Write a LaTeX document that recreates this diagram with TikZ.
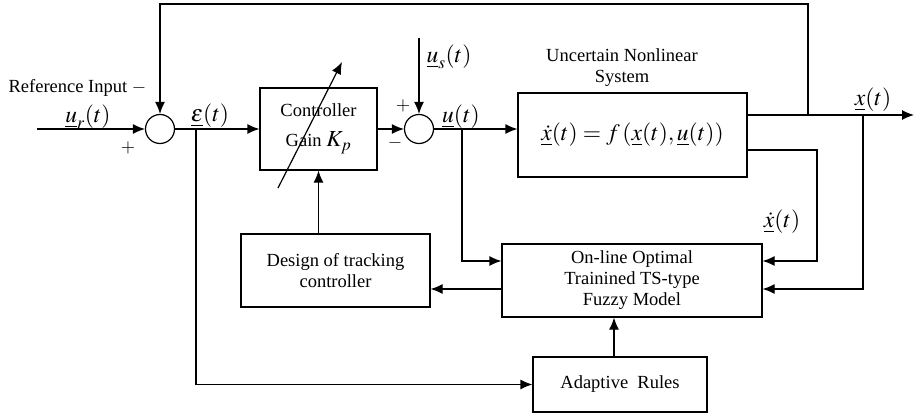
\documentclass[tikz,border=0pt]{standalone}
\usepackage{mathptmx}
\usepackage{fontspec}
\setmainfont{Liberation Serif}
\usetikzlibrary{arrows.meta,calc}
\begin{document}
\begin{tikzpicture}[x=1pt,y=-1pt,line width=1.2pt,
  font=\fontsize{18.5}{21}\selectfont,
  arr/.style={-{Latex[length=12pt,width=10pt]}},
  box/.style={draw,inner sep=0pt,align=center},
  sumnode/.style={draw,circle,minimum size=29pt,inner sep=0pt},
  mlab/.style={font=\fontsize{23.5}{26}\selectfont,inner sep=0pt}]
\useasboundingbox (0,0) rectangle (915,417);
% nodes
\node[sumnode] (s1) at (160,129) {};
\node[box,minimum width=117pt,minimum height=82pt] (ctrl) at (318.5,129) {Controller\\[9pt]Gain {\fontsize{23}{25}\selectfont$K_p$}};
\node[sumnode] (s2) at (419,129) {};
\node[box,minimum width=229pt,minimum height=84pt] (sys) at (632.5,135)
  {\fontsize{23.5}{26}\selectfont $\underline{\dot{x}}(t)=f\,(\underline{x}(t),\underline{u}(t))$};
\node[box,minimum width=189pt,minimum height=73pt] (design) at (335.5,270.5) {Design of tracking\\controller};
\node[box,minimum width=260pt,minimum height=73pt] (fuzzy) at (632,280.5) {On-line Optimal\\Trainined TS-type\\Fuzzy Model};
\node[box,minimum width=174pt,minimum height=55pt] (adapt) at (620,384.5) {Adaptive\ \ Rules};
% coordinates
\coordinate (in) at (37,129);
\coordinate (top) at (0,4);
\coordinate (fbk) at (808,115);
\coordinate (eb) at (196,129);
\coordinate (usin) at (419,38);
\coordinate (ub) at (462,129);
\coordinate (outend) at (914,115);
\coordinate (xb) at (863,115);
\coordinate (xdc) at (817,150);
\coordinate (dg1) at (278,188);
\coordinate (dg2) at (342,62);
\coordinate (fzin1) at ($(fuzzy.west)+(0,-19.5)$);
\coordinate (fzin2) at ($(fuzzy.east)+(0,-19.5)$);
\coordinate (fzin3) at ($(fuzzy.east)+(0,8.5)$);
\coordinate (fzout) at ($(fuzzy.west)+(0,8.5)$);
\coordinate (sysout) at ($(sys.east)+(0,-20)$);
\coordinate (sysxd) at ($(sys.east)+(0,15)$);
\coordinate (adin) at ($(adapt.north)+(-6,0)$);
% connectors
\draw[arr] (in) -- (s1.west);
\draw[arr] (fbk) -- (fbk |- top) -| (s1.north);
\draw[arr] (s1.east) -- (ctrl.west);
\draw[arr] (eb) |- (adapt.west);
\draw[arr] (ctrl.east) -- (s2.west);
\draw[arr] (usin) -- (s2.north);
\draw[arr] (s2.east) -- (s2.east -| sys.west);
\draw[arr] (ub) |- (fzin1);
\draw[arr] (sysout) -- (outend);
\draw[arr] (sysxd) -- (xdc) |- (fzin2);
\draw[arr] (xb) |- (fzin3);
\draw[arr] (fzout) -- (fzout -| design.east);
\draw[arr] (ctrl.south |- design.north) -- (ctrl.south);
\draw[arr] (adin) -- (adin |- fuzzy.south);
\draw[arr] (dg1) -- (dg2);
% labels
\node[anchor=west,inner sep=0pt] (lref) at (8,88) {Reference Input $-$};
\node[mlab] (lur) at (88,117) {$\underline{u}_r(t)$};
\node[inner sep=0pt] (lp1) at (128,148) {$+$};
\node[mlab] (leps) at (210,116) {$\underline{\varepsilon}(t)$};
\node[inner sep=0pt] (lp2) at (403,106) {$+$};
\node[inner sep=0pt] (lm2) at (395,143) {$-$};
\node[mlab] (lus) at (449,57) {$\underline{u}_s(t)$};
\node[mlab] (lu) at (461,117) {$\underline{u}(t)$};
\node[align=center,inner sep=0pt] (lsys) at (622,68) {Uncertain Nonlinear\\System};
\node[mlab] (lx) at (873,100) {$\underline{x}(t)$};
\node[mlab] (lxd) at (782,222) {$\underline{\dot{x}}(t)$};
\end{tikzpicture}
\end{document}
